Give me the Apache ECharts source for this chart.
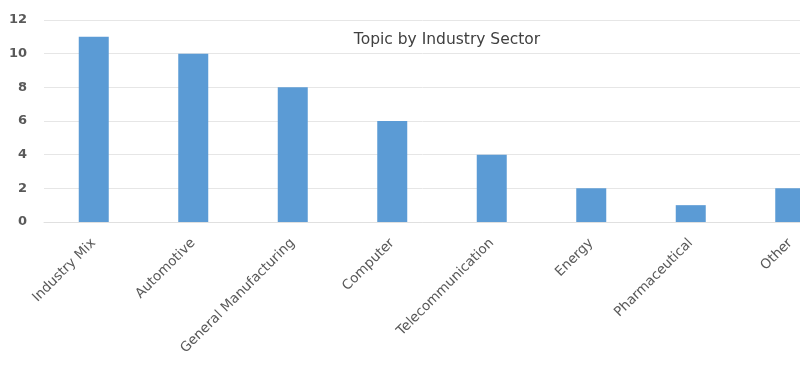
<!DOCTYPE html>
<html>
<head>
<meta charset="utf-8">
<script src="https://cdn.jsdelivr.net/npm/echarts@6/dist/echarts.min.js"></script>
<style>
  html, body { margin: 0; padding: 0; background: #fff; }
  #chart { width: 800px; height: 365px; }
</style>
</head>
<body>
<div id="chart"></div>
<script>
const categories = ['Industry Mix', 'Automotive', 'General Manufacturing', 'Computer',
  'Telecommunication', 'Energy', 'Pharmaceutical', 'Other']
const counts = [11, 10, 8, 6, 4, 2, 1, 2]

const chart = echarts.init(document.getElementById('chart'))

const option = {
  animation: false,
  textStyle: { fontFamily: 'DejaVu Sans' },
  title: {
    text: 'Topic by Industry Sector',
    left: 442,
    top: 27,
    textAlign: 'center',
    textStyle: { color: '#404040', fontSize: 15.5, fontWeight: 'normal' }
  },
  grid: {
    left: 44,
    top: 20,
    width: 796,
    height: 202,
    outerBoundsMode: 'none'
  },
  xAxis: {
    type: 'category',
    data: categories,
    axisLine: { lineStyle: { color: '#e0e0e0' } },
    axisTick: { show: false },
    axisLabel: {
      rotate: 45,
      interval: 0,
      margin: 19,
      color: '#595959',
      fontSize: 13.5
    }
  },
  yAxis: {
    type: 'value',
    min: 0,
    max: 12,
    interval: 2,
    axisLine: { show: false },
    axisTick: { show: false },
    axisLabel: { color: '#595959', fontSize: 13, fontWeight: 'bold', margin: 17 },
    splitLine: { lineStyle: { color: '#e6e6e6' } }
  },
  series: [
    {
      name: 'Topics',
      type: 'bar',
      data: counts,
      barWidth: 30,
      itemStyle: { color: '#5b9bd5' }
    }
  ]
}

chart.setOption(option)
</script>
</body>
</html>
